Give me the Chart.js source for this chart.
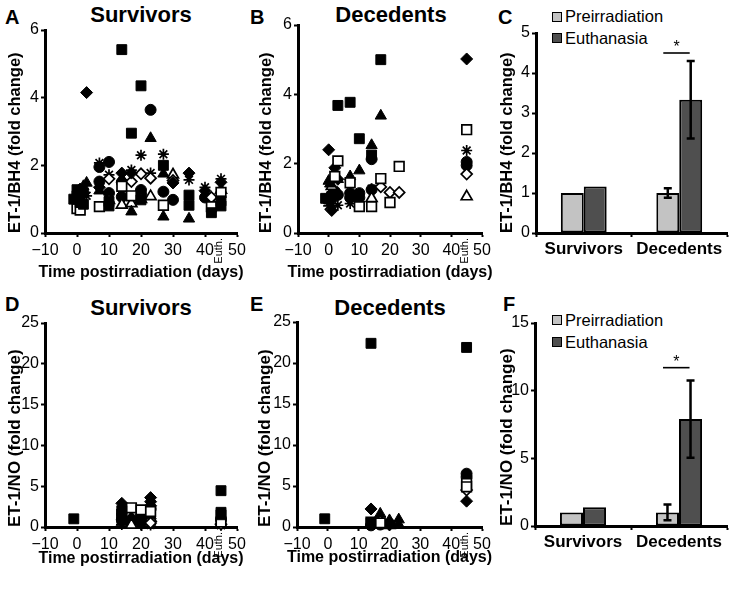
<!DOCTYPE html>
<html>
<head>
<meta charset="utf-8">
<script src="https://cdn.jsdelivr.net/npm/chart.js@4.4.1/dist/chart.umd.min.js"></script>
<style>
body { margin: 0; background: #fff; width: 735px; height: 589px; position: relative; overflow: hidden;
       font-family: "Liberation Sans", Arial, sans-serif; color: #000; }
canvas { position: absolute; }
.t { position: absolute; font-weight: bold; line-height: 1; white-space: nowrap; }
.letter { font-size: 20px; }
.ttl { font-size: 22px; transform: translateX(-50%); }
.lg { position: absolute; font-size: 16.5px; line-height: 1; white-space: nowrap; }
.bx { position: absolute; width: 10px; height: 10px; box-sizing: border-box; border: 1.5px solid #000; }
</style>
</head>
<body>
<div class="t letter" style="left:5px;top:7px">A</div>
<div class="t letter" style="left:250px;top:7px">B</div>
<div class="t letter" style="left:498px;top:7px">C</div>
<div class="t letter" style="left:5px;top:294px">D</div>
<div class="t letter" style="left:250px;top:294px">E</div>
<div class="t letter" style="left:503px;top:294px">F</div>
<div class="t ttl" style="left:141px;top:4px">Survivors</div>
<div class="t ttl" style="left:391px;top:4px">Decedents</div>
<div class="t ttl" style="left:141px;top:297px">Survivors</div>
<div class="t ttl" style="left:390px;top:297px">Decedents</div>

<div class="bx" style="left:552px;top:12px;background:#c3c3c3"></div>
<div class="lg" style="left:565px;top:8px">Preirradiation</div>
<div class="bx" style="left:552px;top:33px;background:#4f4f4f"></div>
<div class="lg" style="left:565px;top:30px">Euthanasia</div>
<div class="bx" style="left:552px;top:315px;background:#c3c3c3"></div>
<div class="lg" style="left:565px;top:312px">Preirradiation</div>
<div class="bx" style="left:552px;top:337px;background:#4f4f4f"></div>
<div class="lg" style="left:565px;top:334px">Euthanasia</div>

<canvas id="cA"></canvas>
<canvas id="cB"></canvas>
<canvas id="cC"></canvas>
<canvas id="cD"></canvas>
<canvas id="cE"></canvas>
<canvas id="cF"></canvas>

<script>
// ---- data: [day, fold change] per marker ----
const euthDay = 45;

// A: ET-1/BH4, survivors
const aSqF = [[-1,1.0],[0,1.28],[0,1.1],[1,0.9],[2,0.85],[10,0.93],[10,0.8],[14,5.42],[17,2.95],[20,4.35],[20,0.98],[27,2.0],[35,1.12],[35,0.82],[42,0.6],[45,0.95],[45,0.8]];
const aSqO = [[0,0.72],[1,0.68],[7,0.78],[14,1.38],[17,1.1],[27,0.82],[42,0.78],[45,1.2]];
const aDiF = [[1,1.3],[3,4.15],[7,1.35],[14,1.77],[17,1.77],[30,1.48],[35,1.77],[40,1.25],[45,1.5]];
const aDiO = [[10,1.6],[17,1.52],[20,1.75],[23,1.62],[30,1.55],[42,1.05]];
const aTrF = [[0,1.2],[2,1.38],[3,1.48],[7,1.25],[14,1.6],[17,0.63],[23,2.8],[27,1.75],[27,0.48],[35,0.42]];
const aTrO = [[10,0.97],[14,0.83],[17,0.87],[20,1.0],[23,1.08],[30,1.72],[45,1.27]];
const aCiF = [[0,0.95],[2,1.2],[7,1.95],[7,1.52],[10,2.1],[10,1.18],[14,1.5],[14,1.07],[20,1.27],[20,1.15],[23,3.64],[27,1.22],[30,0.98],[40,1.05],[41.5,1.02]];
const aStar = [[2,1.15],[3,1.1],[7,2.07],[10,1.72],[17,1.86],[20,2.3],[23,1.77],[27,2.33],[35,1.57],[40,1.35],[45,1.6]];

// B: ET-1/BH4, decedents
const bSqF = [[-1,1.0],[0,0.98],[1,1.05],[3,3.68],[7,3.77],[10,2.72],[14,2.25],[17,5.0]];
const bSqO = [[2,1.63],[3,2.08],[7,1.45],[10,0.76],[14,0.76],[17,1.57],[20,0.88],[23,1.92],[45,2.98]];
const bDiF = [[0,2.4],[1,0.65],[2,1.88],[3,1.55],[45,5.02]];
const bDiO = [[17,1.33],[20,1.17],[23,1.17],[45,1.7]];
const bTrF = [[0,1.5],[0.5,1.42],[3,1.55],[7,1.63],[10,1.8],[14,2.53],[17,3.38]];
const bTrO = [[1,1.35],[14,1.0],[45,1.05]];
const bCiF = [[1,1.1],[2,1.2],[3,1.1],[7,1.15],[7,1.02],[10,1.15],[10,1.02],[14,2.13],[14,1.25],[45,2.05],[45,1.95]];
const bStar = [[0,0.78],[1,0.85],[3,0.8],[7,0.85],[14,1.28],[45,2.38]];

// D: ET-1/NO, survivors
const dSqF = [[-1,1.0],[14,2.0],[14,1.1],[45,4.45],[45,1.8],[45,1.5]];
const dSqO = [[14,1.5],[17,2.35],[20,2.1],[23,1.9],[45,0.6]];
const dDiF = [[14,2.9],[20,1.5],[23,3.6],[23,3.1],[23,2.6]];
const dDiO = [[23,0.5],[45,0.35]];
const dTrF = [[14,0.6],[17,1.2],[20,1.1],[23,1.4]];
const dTrO = [[17,0.25],[23,1.1]];
const dCiF = [[14,0.9],[17,0.9],[17,0.5],[20,1.2],[20,0.6],[23,2.2],[45,0.9]];
const dStar = [[14,0.3],[20,0.3],[23,0.25],[45,0.2]];

// E: ET-1/NO, decedents
const eSqF = [[-1,1.0],[14,22.4],[14,0.5],[45,21.9]];
const eSqO = [[14,0.6],[17,0.5],[45,5.3],[45,4.9]];
const eDiF = [[14,2.2],[20,0.3],[45,3.15]];
const eDiO = [[17,0.7],[45,4.5]];
const eTrF = [[14,0.4],[17,1.6],[20,0.8],[23,0.9],[23,0.3]];
const eTrO = [[20,0.2]];
const eCiF = [[14,0.2],[17,0.3],[20,0.4],[45,6.5],[45,6.1]];
const eStar = [[45,5.6]];

// C / F: bar summaries
const groups = ['Survivors', 'Decedents'];
const cPre = [1.0, 1.0];
const cPreErr = [0, 0.12];
const cEuth = [1.16, 3.33];
const cEuthErr = [0, 0.97];
const fPre = [1.0, 1.0];
const fPreErr = [0, 0.58];
const fEuth = [1.38, 7.9];
const fEuthErr = [0, 2.85];

// ---- styling ----
Chart.defaults.font.family = '"Liberation Sans", Arial, sans-serif';
Chart.defaults.color = '#000';
const FONT = '"Liberation Sans", Arial, sans-serif';

const MARKS = {
  sqF: { style: 'rect', r: 7, fill: true },
  sqO: { style: 'rect', r: 6.8, fill: false },
  diF: { style: 'rectRot', r: 6, fill: true },
  diO: { style: 'rectRot', r: 5.5, fill: false },
  trF: { style: 'triangle', r: 6.5, fill: true },
  trO: { style: 'triangle', r: 6.3, fill: false },
  ciF: { style: 'circle', r: 5.5, fill: true },
  st:  { style: 'star', r: 5.5, fill: false }
};

function frame(box, area, yTitleX, yFs, xBottom) {
  const padL = yTitleX - yFs / 2 - box.x;
  return {
    padding: { left: padL, top: area.t - box.y, right: box.x + box.w - area.r, bottom: box.y + box.h - xBottom },
    yW: area.l - box.x - padL,
    xH: xBottom - area.b
  };
}

function place(id, box) {
  const cv = document.getElementById(id);
  cv.width = box.w; cv.height = box.h;
  cv.style.left = box.x + 'px'; cv.style.top = box.y + 'px';
  return cv;
}

// "Euth." under the x axis and the x-axis title (drawn without width squeeze)
const xLabels = {
  id: 'xLabels',
  afterDraw(chart, args, opts) {
    const ctx = chart.ctx, ca = chart.chartArea;
    ctx.save();
    ctx.fillStyle = '#000';
    ctx.font = 'bold 16px ' + FONT;
    ctx.textAlign = 'center';
    ctx.textBaseline = 'middle';
    ctx.fillText(opts.title, (ca.left + ca.right) / 2, opts.titleY);
    const x = chart.scales.x.getPixelForValue(euthDay) - 2;
    ctx.translate(x, ca.bottom + 5);
    ctx.rotate(-Math.PI / 2);
    ctx.font = '11px ' + FONT;
    ctx.textAlign = 'right';
    ctx.fillText('Euth.', 0, 0);
    ctx.restore();
  }
};

function axisCommon() {
  return {
    grid: { drawOnChartArea: false, tickLength: 4, tickWidth: 2, color: '#000' },
    border: { color: '#000', width: 3 }
  };
}

function scatterPanel(id, box, area, yTitleX, xTitleY, yMax, yStep, yTitle, yFs, series) {
  const fr = frame(box, area, yTitleX, yFs, xTitleY + 8);
  new Chart(place(id, box), {
    type: 'scatter',
    data: {
      datasets: series.map(([pts, m]) => ({
        data: pts.map(p => ({ x: p[0], y: p[1] })),
        pointStyle: MARKS[m].style,
        pointRadius: MARKS[m].r,
        backgroundColor: MARKS[m].fill ? '#000' : '#fff',
        borderColor: '#000',
        borderWidth: MARKS[m].fill ? 1 : 1.7,
        clip: false
      }))
    },
    options: {
      responsive: false, animation: false,
      layout: { padding: fr.padding },
      plugins: {
        legend: { display: false }, tooltip: { enabled: false },
        xLabels: { title: 'Time postirradiation (days)', titleY: xTitleY - box.y + 2 }
      },
      scales: {
        x: {
          type: 'linear', min: -10, max: 50,
          ...axisCommon(),
          ticks: { stepSize: 10, autoSkip: false, maxRotation: 0, padding: 4, font: { size: 16 },
                   callback: v => String(v).replace('-', '\u2212') },
          afterFit: s => { s.height = fr.xH; }
        },
        y: {
          min: 0, max: yMax,
          ...axisCommon(),
          ticks: { stepSize: yStep, padding: 2, font: { size: 16 } },
          title: { display: true, text: yTitle, align: 'start', padding: 0,
                   font: { size: yFs, weight: 'bold', lineHeight: 1 } },
          afterFit: s => { s.width = fr.yW; }
        }
      }
    },
    plugins: [xLabels]
  });
}

const errorBars = {
  id: 'errorBars',
  afterDatasetsDraw(chart) {
    const ctx = chart.ctx, ys = chart.scales.y;
    chart.data.datasets.forEach((ds, i) => {
      chart.getDatasetMeta(i).data.forEach((bar, j) => {
        const e = ds.errs[j];
        if (!e) return;
        const t = ys.getPixelForValue(ds.data[j] + e);
        const b = ys.getPixelForValue(ds.data[j] - e);
        ctx.save();
        ctx.strokeStyle = '#000';
        ctx.lineWidth = 2.5;
        ctx.beginPath();
        ctx.moveTo(bar.x, t); ctx.lineTo(bar.x, b);
        ctx.moveTo(bar.x - 4, t); ctx.lineTo(bar.x + 4, t);
        ctx.moveTo(bar.x - 4, b); ctx.lineTo(bar.x + 4, b);
        ctx.stroke();
        ctx.restore();
      });
    });
  }
};

const sigMark = {
  id: 'sigMark',
  afterDraw(chart, args, opts) {
    const ctx = chart.ctx;
    const p = chart.getDatasetMeta(0).data[1];
    const q = chart.getDatasetMeta(1).data[1];
    const y = chart.scales.y.getPixelForValue(opts.y);
    const x0 = p.x - 4.5, x1 = q.x - 1;
    ctx.save();
    ctx.strokeStyle = '#000';
    ctx.lineWidth = 1.6;
    ctx.beginPath();
    ctx.moveTo(x0, y); ctx.lineTo(x1, y);
    ctx.stroke();
    ctx.fillStyle = '#000';
    ctx.font = '16px ' + FONT;
    ctx.textAlign = 'center';
    ctx.textBaseline = 'middle';
    ctx.fillText('*', (x0 + x1) / 2, y - 5);
    ctx.restore();
  }
};

function barPanel(id, box, area, yTitleX, yMax, yStep, yTitle, yFs, pre, preErr, euth, euthErr, sigY) {
  const fr = frame(box, area, yTitleX, yFs, area.b + 35);
  const common = { borderColor: '#000', borderWidth: 2, borderSkipped: false, barPercentage: 1, categoryPercentage: 0.48 };
  new Chart(place(id, box), {
    type: 'bar',
    data: {
      labels: groups,
      datasets: [
        { label: 'Preirradiation', data: pre, errs: preErr, backgroundColor: '#c3c3c3', ...common },
        { label: 'Euthanasia', data: euth, errs: euthErr, backgroundColor: '#4f4f4f', ...common }
      ]
    },
    options: {
      responsive: false, animation: false,
      layout: { padding: fr.padding },
      plugins: { legend: { display: false }, tooltip: { enabled: false }, sigMark: { y: sigY } },
      scales: {
        x: {
          ...axisCommon(),
          ticks: { padding: 2, font: { size: 17, weight: 'bold' } },
          afterFit: s => { s.height = fr.xH; }
        },
        y: {
          min: 0, max: yMax,
          ...axisCommon(),
          ticks: { stepSize: yStep, padding: 2, font: { size: 16 } },
          title: { display: true, text: yTitle, align: 'start', padding: 0,
                   font: { size: yFs, weight: 'bold', lineHeight: 1 } },
          afterFit: s => { s.width = fr.yW; }
        }
      }
    },
    plugins: [errorBars, sigMark]
  });
}

scatterPanel('cA', { x: 0, y: 0, w: 250, h: 290 }, { l: 45, r: 237, t: 30, b: 233 }, 15, 271, 6, 2,
  'ET-1/BH4 (fold change)', 16.5,
  [[aSqF, 'sqF'], [aSqO, 'sqO'], [aDiF, 'diF'], [aDiO, 'diO'], [aTrF, 'trF'], [aTrO, 'trO'], [aCiF, 'ciF'], [aStar, 'st']]);

scatterPanel('cB', { x: 250, y: 0, w: 245, h: 290 }, { l: 298, r: 482, t: 25, b: 233 }, 266, 271, 6, 2,
  'ET-1/BH4 (fold change)', 16.5,
  [[bSqF, 'sqF'], [bSqO, 'sqO'], [bDiF, 'diF'], [bDiO, 'diO'], [bTrF, 'trF'], [bTrO, 'trO'], [bCiF, 'ciF'], [bStar, 'st']]);

barPanel('cC', { x: 495, y: 0, w: 240, h: 290 }, { l: 536, r: 727, t: 33, b: 233 }, 507, 5, 1,
  'ET-1/BH4 (fold change)', 16.5, cPre, cPreErr, cEuth, cEuthErr, 4.5);

scatterPanel('cD', { x: 0, y: 290, w: 250, h: 299 }, { l: 45, r: 237, t: 323, b: 527 }, 15, 557, 25, 5,
  'ET-1/NO (fold change)', 17,
  [[dSqF, 'sqF'], [dSqO, 'sqO'], [dDiF, 'diF'], [dDiO, 'diO'], [dTrF, 'trF'], [dTrO, 'trO'], [dCiF, 'ciF'], [dStar, 'st']]);

scatterPanel('cE', { x: 250, y: 290, w: 245, h: 299 }, { l: 297, r: 482, t: 322, b: 527 }, 265, 556, 25, 5,
  'ET-1/NO (fold change)', 17,
  [[eSqF, 'sqF'], [eSqO, 'sqO'], [eDiF, 'diF'], [eDiO, 'diO'], [eTrF, 'trF'], [eTrO, 'trO'], [eCiF, 'ciF'], [eStar, 'st']]);

barPanel('cF', { x: 495, y: 290, w: 240, h: 299 }, { l: 535, r: 727, t: 323, b: 526 }, 507, 15, 5,
  'ET-1/NO (fold change)', 17, fPre, fPreErr, fEuth, fEuthErr, 11.7);
</script>
</body>
</html>
